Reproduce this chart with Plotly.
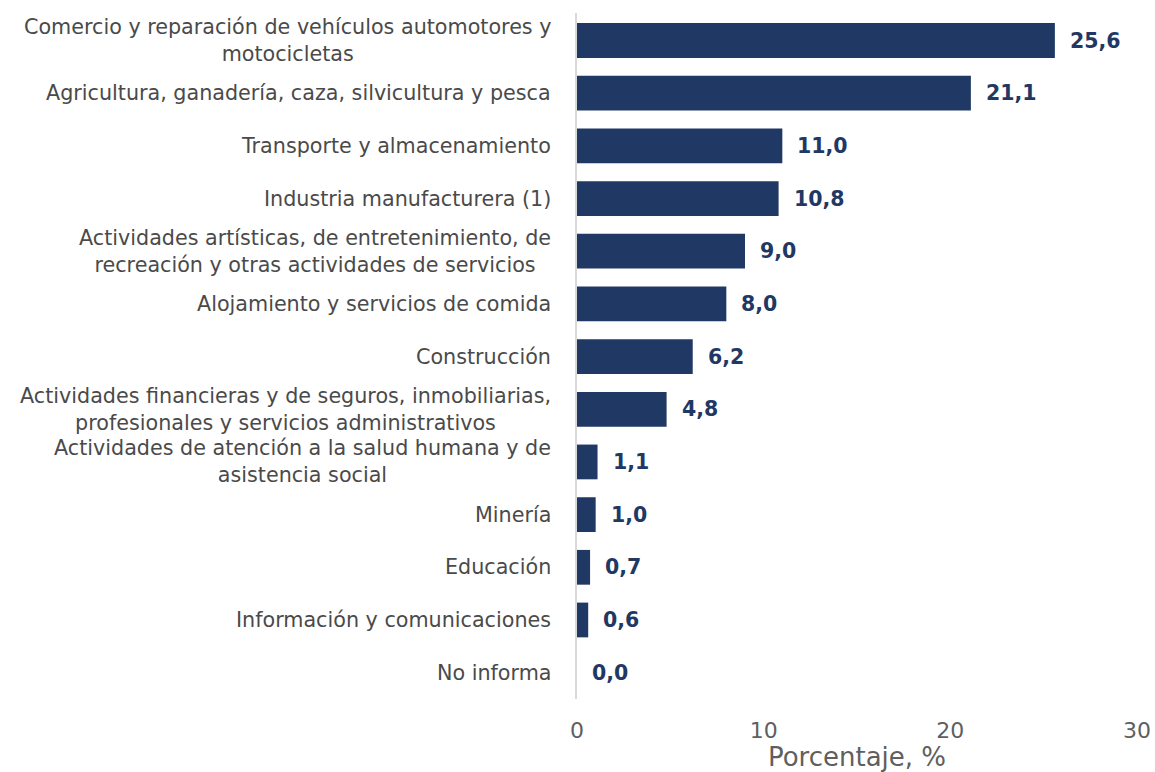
import plotly.graph_objects as go

categories = [
    "Comercio y reparación de vehículos automotores y<br>motocicletas",
    "Agricultura, ganadería, caza, silvicultura y pesca",
    "Transporte y almacenamiento",
    "Industria manufacturera (1)",
    "Actividades artísticas, de entretenimiento, de<br>recreación y otras actividades de servicios",
    "Alojamiento y servicios de comida",
    "Construcción",
    "Actividades financieras y de seguros, inmobiliarias,<br>profesionales y servicios administrativos",
    "Actividades de atención a la salud humana y de<br>asistencia social",
    "Minería",
    "Educación",
    "Información y comunicaciones",
    "No informa",
]
values = [25.6, 21.1, 11.0, 10.8, 9.0, 8.0, 6.2, 4.8, 1.1, 1.0, 0.7, 0.6, 0.0]
x_ticks = [0, 10, 20, 30]
x_title = "Porcentaje, %"

FONT = "DejaVu Sans"
BAR = "#203864"
GRAY = "#4a4a4a"

fig = go.Figure()
fig.add_trace(go.Bar(
    y=categories, x=values, orientation="h",
    marker=dict(color=BAR, line=dict(width=0)),
    hoverinfo="skip",
))

for c, v in zip(categories, values):
    fig.add_annotation(
        x=v, y=c, xref="x", yref="y", text=f"<b>{v:.1f}".replace(".", ",") + "</b>",
        showarrow=False, xanchor="left", xshift=13,
        font=dict(family=FONT, size=20.5, color="#1F3864"),
    )
    fig.add_annotation(
        x=0, y=c, xref="paper", yref="y", text=c,
        showarrow=False, xanchor="right", align="center", xshift=-24,
        font=dict(family=FONT, size=20.7, color=GRAY),
    )

fig.update_layout(
    width=1155, height=772,
    margin=dict(l=577, r=18, t=13, b=73, autoexpand=False),
    paper_bgcolor="white", plot_bgcolor="white",
    bargap=0.34,
    showlegend=False,
    xaxis=dict(range=[0, 30], tickvals=x_ticks, showgrid=False, zeroline=False,
               showline=False, ticks="outside", ticklen=12, tickcolor="rgba(0,0,0,0)",
               automargin=False,
               tickfont=dict(family=FONT, size=22, color="#5f5f5f"),
               title=dict(text=x_title, font=dict(family=FONT, size=26, color="#5f5f5f"), standoff=9)),
    yaxis=dict(autorange="reversed", showticklabels=False, showgrid=False, automargin=False,
               zeroline=False, showline=True, linecolor="#D9D9D9", linewidth=2, ticks=""),
)

fig.write_html("out.html", config={"displayModeBar": False},
               post_script="document.body.style.margin='0';document.body.style.overflow='hidden';")
